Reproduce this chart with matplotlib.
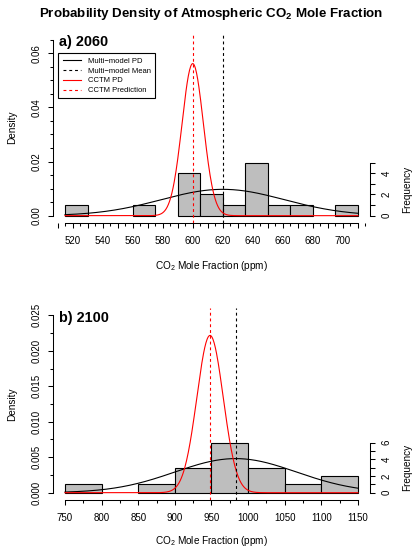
import numpy as np
import matplotlib
matplotlib.use("Agg")
import matplotlib.pyplot as plt
from matplotlib.ticker import MultipleLocator, FixedLocator, FormatStrFormatter
from matplotlib.lines import Line2D

plt.rcParams["font.family"] = ["Liberation Sans", "DejaVu Sans"]
plt.rcParams["mathtext.fontset"] = "custom"
plt.rcParams["mathtext.rm"] = "Liberation Sans"
plt.rcParams["mathtext.bf"] = "Liberation Sans:bold"
plt.rcParams["mathtext.default"] = "regular"

# ---- data ----
edges_2060 = [515, 530, 545, 560, 575, 590, 605, 620, 635, 650, 665, 680, 695, 710]
counts_2060 = [1, 0, 0, 1, 0, 4, 2, 1, 5, 1, 1, 0, 1]
mm_mean_2060, mm_sd_2060 = 620.0, 41.0
cctm_mean_2060, cctm_sd_2060 = 600.0, 7.1

edges_2100 = [750, 800, 850, 900, 950, 1000, 1050, 1100, 1150]
counts_2100 = [1, 0, 1, 3, 6, 3, 1, 2]
mm_mean_2100, mm_sd_2100 = 983.0, 83.0
cctm_mean_2100, cctm_sd_2100 = 948.0, 18.0

W, H = 412, 547
TICK_FS = 7
LAB_FS = 7.2
LEG_FS = 5.5
DASH = (0, (2.6, 2.6))


def npdf(x, mu, sd):
    return np.exp(-0.5 * ((x - mu) / sd) ** 2) / (sd * np.sqrt(2 * np.pi))


def px_rect(left, top, right, bottom):
    return [left / W, 1 - bottom / H, (right - left) / W, (bottom - top) / H]


def panel(fig, rect, edges, counts, mm, cctm, ytop, ymaj, ymin, yfmt,
          xmaj, xmin_, xlab_step, ftop, xlab_off):
    edges = np.asarray(edges, float)
    counts = np.asarray(counts, float)
    width = edges[1] - edges[0]
    n = counts.sum()
    dens = counts / (n * width)

    ax = fig.add_axes(rect)
    x0, x1 = edges[0], edges[-1]
    dx = 0.04 * (x1 - x0)
    ax.set_xlim(x0 - dx, x1 + dx)
    ax.set_ylim(-0.04 * ytop, ytop * 1.04)

    keep = counts > 0
    ax.bar(edges[:-1][keep], dens[keep], width=width, align="edge",
           color="#bebebe", edgecolor="black", linewidth=0.8, zorder=2)

    xs = np.linspace(x0, x1, 500)
    ax.plot(xs, npdf(xs, *mm), color="black", lw=0.8, zorder=3)
    ax.plot(xs, npdf(xs, *cctm), color="red", lw=0.8, zorder=4)
    ax.axvline(mm[0], color="black", lw=0.8, ls=DASH, zorder=5)
    ax.axvline(cctm[0], color="red", lw=0.8, ls=DASH, zorder=5)

    for s in ("top", "right"):
        ax.spines[s].set_visible(False)
    ax.spines["left"].set_bounds(0, ytop)
    ax.spines["bottom"].set_bounds(x0, x1)
    for s in ("left", "bottom"):
        ax.spines[s].set_linewidth(0.75)

    ax.xaxis.set_major_locator(MultipleLocator(xmaj))
    ax.xaxis.set_minor_locator(MultipleLocator(xmin_))
    ax.xaxis.set_major_formatter(
        plt.FuncFormatter(lambda v, p: f"{v:.0f}" if round(v) % xlab_step == 0 else ""))
    ax.yaxis.set_major_locator(MultipleLocator(ymaj))
    ax.yaxis.set_minor_locator(MultipleLocator(ymin))
    ax.yaxis.set_major_formatter(FormatStrFormatter(yfmt))
    ax.tick_params(axis="both", which="major", length=3.6, width=0.75,
                   labelsize=TICK_FS, pad=6)
    ax.tick_params(axis="both", which="minor", length=2.3, width=0.75)
    ax.tick_params(axis="y", labelrotation=90, pad=5)
    for t in ax.get_yticklabels():
        t.set_va("center")

    ax.set_ylabel("Density", fontsize=LAB_FS, va="center")
    ax.yaxis.set_label_coords(-41.6 / (rect[2] * W), 0.5)
    ax.set_xlabel("CO$_2$ Mole Fraction (ppm)", fontsize=LAB_FS, va="center")
    ax.xaxis.set_label_coords(0.5, -xlab_off / (rect[3] * H))

    scale = n * width
    ax2 = ax.twinx()
    ax2.set_ylim(ax.get_ylim()[0] * scale, ax.get_ylim()[1] * scale)
    for s in ("top", "left", "bottom"):
        ax2.spines[s].set_visible(False)
    ax2.spines["right"].set_bounds(0, ftop)
    ax2.spines["right"].set_linewidth(0.75)
    ax2.yaxis.set_major_locator(FixedLocator(np.arange(0, ftop + 1, 2)))
    ax2.yaxis.set_minor_locator(FixedLocator(np.arange(1, ftop + 1, 2)))
    ax2.tick_params(axis="y", which="major", length=3.6, width=0.75,
                    labelsize=TICK_FS, pad=5, labelrotation=90)
    ax2.tick_params(axis="y", which="minor", length=3.6, width=0.75)
    for t in ax2.get_yticklabels():
        t.set_va("center")
    ax2.set_ylabel("Frequency", fontsize=LAB_FS, va="center")
    yl = ax2.get_ylim()
    ax2.yaxis.set_label_coords(1 + 37 / (rect[2] * W),
                               (ftop / 2 - yl[0]) / (yl[1] - yl[0]))
    return ax


fig = plt.figure(figsize=(W / 100, H / 100), dpi=100)

ax_a = panel(fig, px_rect(53.3, 32.7, 369.7, 222.7), edges_2060, counts_2060,
             (mm_mean_2060, mm_sd_2060), (cctm_mean_2060, cctm_sd_2060),
             0.065, 0.02, 0.005, "%.2f", 10, 5, 20, 5, 43.3)
ax_b = panel(fig, px_rect(53.3, 308.2, 369.7, 499.8), edges_2100, counts_2100,
             (mm_mean_2100, mm_sd_2100), (cctm_mean_2100, cctm_sd_2100),
             0.025, 0.005, 0.0025, "%.3f", 50, 25, 50, 6, 40.8)

handles = [
    Line2D([], [], color="black", lw=0.8),
    Line2D([], [], color="black", lw=0.8, ls=DASH),
    Line2D([], [], color="red", lw=0.8),
    Line2D([], [], color="red", lw=0.8, ls=DASH),
]
labels = ["Multi\u2212model PD", "Multi\u2212model Mean", "CCTM PD", "CCTM Prediction"]
leg = ax_a.legend(handles, labels, loc="upper left",
                  bbox_to_anchor=(58.3 / W, 1 - 53.3 / H),
                  bbox_transform=fig.transFigure, fontsize=LEG_FS,
                  frameon=True, fancybox=False, edgecolor="black",
                  framealpha=1, borderpad=0.55, borderaxespad=0,
                  handlelength=2.4, handletextpad=0.95, labelspacing=0.32)
leg.get_frame().set_linewidth(0.8)

fig.text(59.3 / W, 1 - 46 / H, "a) 2060", fontsize=10.4, fontweight="bold", va="baseline")
fig.text(59.3 / W, 1 - 322 / H, "b) 2100", fontsize=10.4, fontweight="bold", va="baseline")
fig.text(211.5 / W, 1 - 17.5 / H,
         r"Probability Density of Atmospheric CO$_\mathbf{2}$ Mole Fraction",
         fontsize=9.6, fontweight="bold", ha="center", va="baseline")

fig.savefig("out.png", dpi=100)
